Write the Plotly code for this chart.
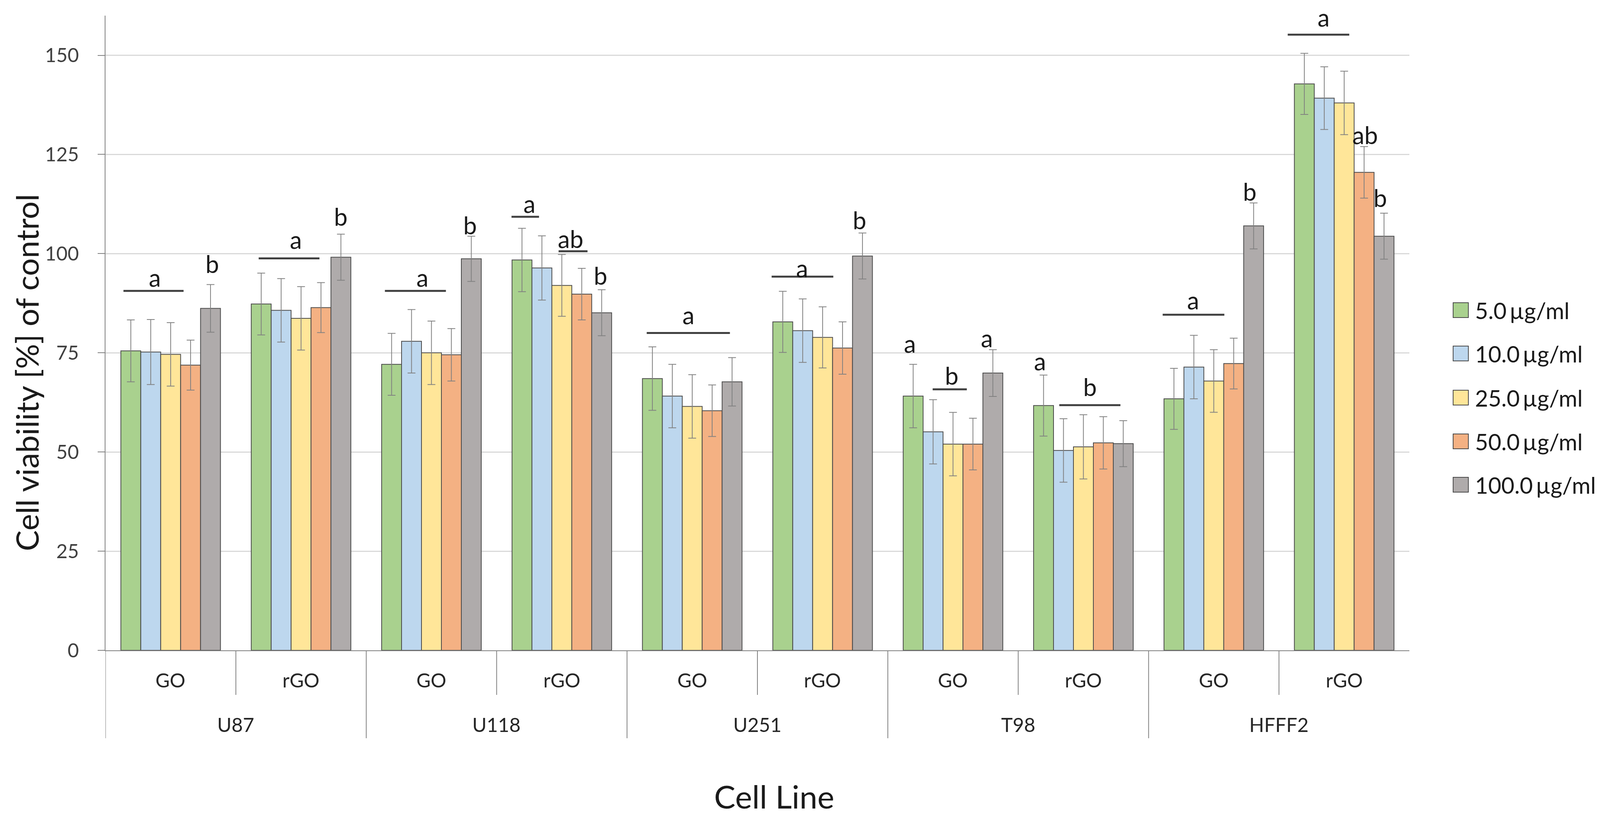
import plotly.graph_objects as go

# ---------------- data ----------------
cell_lines = ["U87", "U118", "U251", "T98", "HFFF2"]
materials = ["GO", "rGO"]
concentrations = ["5.0\u2009µg/ml", "10.0\u2009µg/ml", "25.0\u2009µg/ml", "50.0\u2009µg/ml", "100.0\u2009µg/ml"]

# order: U87 GO, U87 rGO, U118 GO, U118 rGO, U251 GO, U251 rGO, T98 GO, T98 rGO, HFFF2 GO, HFFF2 rGO
v_5 = [75.5, 87.3, 72.1, 98.4, 68.5, 82.8, 64.1, 61.7, 63.4, 142.8]
v_10 = [75.2, 85.7, 77.9, 96.4, 64.1, 80.6, 55.1, 50.4, 71.4, 139.2]
v_25 = [74.6, 83.7, 75.0, 92.0, 61.5, 78.9, 52.0, 51.3, 67.9, 138.0]
v_50 = [71.9, 86.4, 74.5, 89.8, 60.4, 76.2, 52.0, 52.3, 72.3, 120.5]
v_100 = [86.2, 99.1, 98.7, 85.1, 67.7, 99.4, 69.9, 52.1, 107.0, 104.4]

e_5 = [7.8, 7.8, 7.8, 8.0, 8.0, 7.7, 8.0, 7.7, 7.7, 7.7]
e_10 = [8.2, 8.0, 8.0, 8.1, 8.0, 8.0, 8.1, 8.0, 8.0, 7.9]
e_25 = [8.0, 8.0, 8.0, 7.8, 8.0, 7.7, 8.0, 8.1, 7.9, 8.0]
e_50 = [6.3, 6.3, 6.6, 6.5, 6.5, 6.6, 6.5, 6.6, 6.4, 6.5]
e_100 = [6.0, 5.8, 5.7, 5.8, 6.1, 5.8, 5.9, 5.8, 5.8, 5.8]

y_ticks = [0, 25, 50, 75, 100, 125, 150]

# significance letters: (category index, text)
sig_letters = [
    (0, "a"), (0, "b"), (1, "a"), (1, "b"), (2, "a"), (2, "b"),
    (3, "a"), (3, "ab"), (3, "b"), (4, "a"), (5, "a"), (5, "b"),
    (6, "a"), (6, "b"), (6, "a"), (7, "a"), (7, "b"), (8, "a"), (8, "b"),
    (9, "a"), (9, "ab"), (9, "b"),
]
# ---------------- styling / placement ----------------
letter_pos = [  # (x offset within category, y in data units)
    (-0.122, 94.0), (0.32, 97.5), (-0.039, 103.6), (0.304, 109.4), (-0.068, 94.0), (0.298, 107.2),
    (-0.248, 112.6), (0.069, 103.8), (0.296, 94.5), (-0.028, 84.6), (-0.156, 96.4), (0.283, 108.5),
    (-0.33, 77.4), (-0.009, 69.3), (0.259, 78.8), (-0.333, 73.0), (0.05, 66.5), (-0.157, 88.3), (0.275, 115.7),
    (-0.158, 159.6), (0.161, 130.0), (0.277, 114.1),
]
sig_lines = [  # (category index, x0 offset, x1 offset, y)
    (0, -0.362, 0.099, 90.6), (1, -0.325, 0.141, 98.8), (2, -0.357, 0.111, 90.6),
    (3, -0.386, -0.175, 109.3), (3, -0.025, 0.197, 100.6), (4, -0.349, 0.289, 80.0),
    (5, -0.391, 0.082, 94.2), (6, -0.156, 0.106, 65.8), (7, -0.185, 0.284, 61.8),
    (8, -0.392, 0.081, 84.6), (9, -0.433, 0.039, 155.2),
]

colors = ["#A9D18E", "#BDD7EE", "#FFE699", "#F4B183", "#AFABAB"]
FONT = "Lato"

values = [v_5, v_10, v_25, v_50, v_100]
errors = [e_5, e_10, e_25, e_50, e_100]

cats = [f"{cl} {m}" for cl in cell_lines for m in materials]

fig = go.Figure()
for name, vals, errs, col in zip(concentrations, values, errors, colors):
    fig.add_trace(go.Bar(
        x=cats, y=vals, name=name,
        marker=dict(color=col, line=dict(color="#4a4a4a", width=2)),
        error_y=dict(type="data", array=errs, visible=True, color="#808080", thickness=2, width=10),
        showlegend=False,
    ))

W, H = 4116, 2084
L, R, T, B = 262, 516, 32, 427
pw, ph = W - L - R, H - T - B


def py(pix_y):
    """convert absolute pixel y to paper coordinate"""
    return (H - B - pix_y) / ph


def px(pix_x):
    return (pix_x - L) / pw


shapes = []
annotations = []

# category dividers below axis
n = len(cats)
for i in range(n):
    is_group = (i % 2 == 0)
    y_end = py(1882) if is_group else py(1771)
    shapes.append(dict(type="line", xref="x", yref="paper", x0=i - 0.5, x1=i - 0.5,
                       y0=0, y1=y_end, line=dict(color="#808080", width=2)))

# sub-category labels
for i, c in enumerate(cats):
    annotations.append(dict(x=i, y=py(1733), xref="x", yref="paper", text=c.split(" ")[1],
                            showarrow=False, font=dict(family=FONT, size=50, color="#262626"),
                            xanchor="center", yanchor="middle"))
# group labels
for g, cl in enumerate(cell_lines):
    annotations.append(dict(x=2 * g + 0.5, y=py(1847), xref="x", yref="paper", text=cl,
                            showarrow=False, font=dict(family=FONT, size=50, color="#262626"),
                            xanchor="center", yanchor="middle"))

# significance lines and letters
for ci, x0, x1, yv in sig_lines:
    shapes.append(dict(type="line", xref="x", yref="y", x0=ci + x0, x1=ci + x1, y0=yv, y1=yv,
                       line=dict(color="#404040", width=5)))
for (ci, txt), (xo, yv) in zip(sig_letters, letter_pos):
    annotations.append(dict(x=ci + xo, y=yv, xref="x", yref="y", text=txt, showarrow=False,
                            font=dict(family=FONT, size=62, color="#1a1a1a"),
                            xanchor="center", yanchor="middle"))

# axis titles
annotations.append(dict(x=px(60), y=py(946), xref="paper", yref="paper",
                        text="Cell viability [%] of control", textangle=-90, showarrow=False,
                        font=dict(family=FONT, size=80, color="#1a1a1a"),
                        xanchor="center", yanchor="middle"))
annotations.append(dict(x=px(1974), y=py(2030), xref="paper", yref="paper",
                        text="Cell Line", showarrow=False,
                        font=dict(family=FONT, size=82, color="#1a1a1a"),
                        xanchor="center", yanchor="middle"))

# legend (drawn manually to match swatch size)
leg_y = [786, 897, 1010, 1122, 1233]
for name, col, yc in zip(concentrations, colors, leg_y):
    shapes.append(dict(type="rect", xref="paper", yref="paper",
                       x0=px(3712), x1=px(3751), y0=py(yc + 19), y1=py(yc - 19),
                       fillcolor=col, line=dict(color="#4a4a4a", width=2)))
    annotations.append(dict(x=px(3766), y=py(yc), xref="paper", yref="paper", text=name,
                            showarrow=False, font=dict(family=FONT, size=58, color="#1a1a1a"),
                            xanchor="left", yanchor="middle"))

fig.update_layout(
    width=W, height=H,
    margin=dict(l=L, r=R, t=T, b=B, pad=0),
    paper_bgcolor="white", plot_bgcolor="white",
    barmode="group", bargap=0.236, bargroupgap=0,
    shapes=shapes, annotations=annotations,
    xaxis=dict(type="category", categoryorder="array", categoryarray=cats,
               range=[-0.5, n - 0.5], showticklabels=False, showline=True,
               linecolor="#808080", linewidth=2, ticks="", showgrid=False, zeroline=False),
    yaxis=dict(range=[0, 160], tickvals=y_ticks, showline=True, linecolor="#808080", linewidth=2,
               ticks="outside", ticklen=18, tickcolor="#808080", tickwidth=2,
               showgrid=True, gridcolor="#D9D9D9", gridwidth=3, zeroline=False,
               tickfont=dict(family=FONT, size=50, color="#404040"), ticklabelstandoff=38),
    font=dict(family=FONT),
)

fig.write_html("out.html")
